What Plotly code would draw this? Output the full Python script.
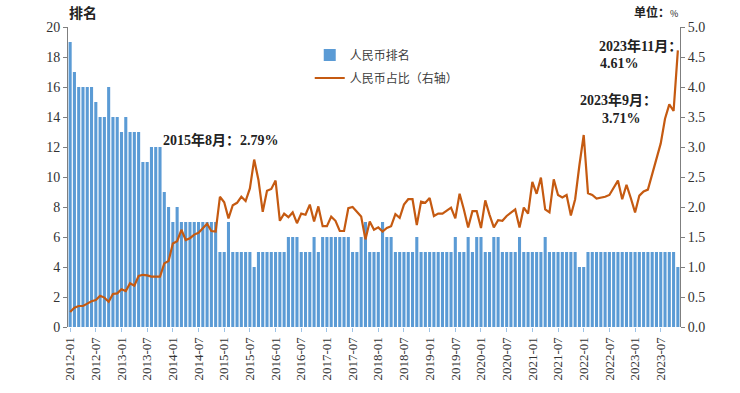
import plotly.graph_objects as go

# ---- data ----
start_year, start_month, n_months = 2012, 1, 143
months = []
y, m = start_year, start_month
for _ in range(n_months):
    months.append(f"{y}-{m:02d}")
    m += 1
    if m > 12:
        m = 1
        y += 1

rmb_rank = [
    19, 17, 16, 16, 16, 16, 15, 14, 14, 16, 14, 14,          # 2012
    13, 14, 13, 13, 13, 11, 11, 12, 12, 12, 9, 8,            # 2013
    7, 8, 7, 7, 7, 7, 7, 7, 7, 7, 7, 5,                      # 2014
    5, 7, 5, 5, 5, 5, 5, 4, 5, 5, 5, 5,                      # 2015
    5, 5, 5, 6, 6, 6, 5, 5, 5, 6, 5, 6,                      # 2016
    6, 6, 6, 6, 6, 6, 5, 5, 6, 7, 5, 5,                      # 2017
    5, 7, 6, 6, 5, 5, 5, 5, 5, 6, 5, 5,                      # 2018
    5, 5, 5, 5, 5, 5, 6, 5, 5, 6, 5, 6,                      # 2019
    6, 5, 5, 6, 6, 5, 5, 5, 5, 6, 5, 5,                      # 2020
    5, 5, 5, 6, 5, 5, 5, 5, 5, 5, 5, 4,                      # 2021
    4, 5, 5, 5, 5, 5, 5, 5, 5, 5, 5, 5,                      # 2022
    5, 5, 5, 5, 5, 5, 5, 5, 5, 5, 4,                         # 2023
]

rmb_share = [
    0.25, 0.32, 0.35, 0.35, 0.39, 0.43, 0.45, 0.52, 0.49, 0.42, 0.55, 0.56,
    0.63, 0.60, 0.73, 0.69, 0.85, 0.87, 0.86, 0.84, 0.84, 0.84, 1.06, 1.10,
    1.39, 1.43, 1.62, 1.45, 1.48, 1.54, 1.57, 1.64, 1.72, 1.60, 1.59, 2.17,
    2.08, 1.81, 2.03, 2.07, 2.17, 2.10, 2.31, 2.79, 2.45, 1.92, 2.27, 2.30,
    2.44, 1.77, 1.89, 1.83, 1.91, 1.73, 1.89, 1.87, 2.04, 1.76, 2.01, 1.68,
    1.68, 1.84, 1.77, 1.60, 1.60, 1.98, 2.00, 1.92, 1.84, 1.46, 1.76, 1.62,
    1.66, 1.59, 1.65, 1.68, 1.88, 1.82, 2.04, 2.13, 2.13, 1.70, 2.09, 2.07,
    2.15, 1.85, 1.89, 1.89, 1.94, 1.99, 1.81, 2.22, 1.96, 1.66, 1.93, 1.93,
    1.65, 2.11, 1.87, 1.66, 1.78, 1.77, 1.85, 1.91, 1.96, 1.66, 1.99, 1.89,
    2.42, 2.22, 2.49, 1.96, 1.91, 2.46, 2.20, 2.16, 2.20, 1.86, 2.13, 2.70,
    3.20, 2.23, 2.20, 2.14, 2.15, 2.17, 2.20, 2.31, 2.44, 2.13, 2.37, 2.15,
    1.91, 2.19, 2.26, 2.29, 2.54, 2.77, 3.06, 3.47, 3.71, 3.60, 4.61,
]

tick_labels = months[::6]

serif = "Liberation Serif, Times New Roman, DejaVu Serif, serif"
cjk = "Noto Sans CJK SC"
mixed = "Liberation Serif, Noto Sans CJK SC, serif"
axis_grey = "#7f7f7f"

fig = go.Figure()
fig.add_trace(go.Bar(
    x=months, y=rmb_rank, name="人民币排名", legendgroup="rank",
    marker=dict(color="#5B9BD5", line=dict(width=0)),
    yaxis="y",
))
fig.add_trace(go.Scatter(
    x=months, y=rmb_share, name="人民币占比（右轴）", legendgroup="share",
    mode="lines", line=dict(color="#C55A11", width=2.2),
    yaxis="y2",
))

fig.update_layout(
    width=740, height=393,
    margin=dict(l=68, r=60, t=27, b=66),
    paper_bgcolor="white", plot_bgcolor="white",
    bargap=0.28,
    showlegend=True,
    legend=dict(
        x=0.395, y=0.955, xanchor="left", yanchor="top",
        font=dict(family=cjk, size=12, color="#404040"),
        bgcolor="rgba(0,0,0,0)", itemwidth=30, tracegroupgap=4,
    ),
    xaxis=dict(
        type="category", categoryorder="array", categoryarray=months,
        tickmode="array", tickvals=tick_labels, ticktext=tick_labels,
        tickangle=-90, ticks="outside", ticklen=4, tickcolor="#9dc3e6",
        showline=False, showgrid=False, zeroline=False,
        tickfont=dict(family=serif, size=13, color="#333"),
        range=[-0.5, len(months) - 0.5],
    ),
    yaxis=dict(
        range=[0, 20], dtick=2, ticks="outside", ticklen=4,
        tickcolor=axis_grey, showline=True, linecolor=axis_grey, linewidth=1,
        showgrid=False, zeroline=False,
        tickfont=dict(family=serif, size=14, color="#333"),
    ),
    yaxis2=dict(
        range=[0, 5], dtick=0.5, tickformat=".1f", overlaying="y", side="right",
        ticks="outside", ticklen=4, tickcolor=axis_grey,
        showline=True, linecolor=axis_grey, linewidth=1,
        showgrid=False, zeroline=False,
        tickfont=dict(family=serif, size=14, color="#333"),
    ),
)

ann_font = dict(family=mixed, size=14, color="#222")
def ann(text, x_px, y_px, anchor="left", font=ann_font):
    fig.add_annotation(
        text=text, xref="paper", yref="paper",
        x=(x_px - 68) / 612, y=(327 - y_px) / 300,
        xanchor=anchor, yanchor="middle", showarrow=False, font=font,
    )

ann("<b>2015年8月：2.79%</b>", 161, 140)
ann("<b>2023年9月：</b>", 578, 100)
ann("<b>3.71%</b>", 600, 118)
ann("<b>2023年11月：</b>", 597, 46)
ann("<b>4.61%</b>", 598, 64)
ann("<b>排名</b>", 67, 12, font=dict(family=cjk, size=14, color="#222"))
ann("<b>单位：</b><span style='font-size:9px'>%</span>", 632, 12,
    font=dict(family=cjk, size=12, color="#222"))

# remove the default 8px page margin so the figure sits at the window origin
fig.write_html("out.html", config={"displayModeBar": False},
               post_script="document.body.style.margin='0';")
